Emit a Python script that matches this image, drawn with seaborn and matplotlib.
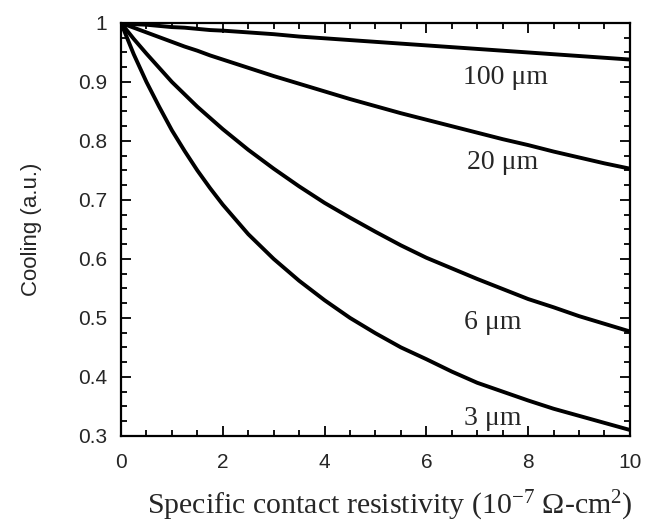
import numpy as np
import pandas as pd
import matplotlib
matplotlib.use("Agg")
import matplotlib.pyplot as plt
import seaborn as sns
from matplotlib.ticker import MultipleLocator

# resistivity values (10^-7 ohm-cm^2)
x_vals = [0, 0.25, 0.5, 0.75, 1, 1.25, 1.5, 1.75, 2, 2.5, 3, 3.5, 4, 4.5,
          5, 5.5, 6, 6.5, 7, 7.5, 8, 8.5, 9, 9.5, 10]

# cooling, one list per contact size
cool_100 = [1.0, 0.998, 0.997, 0.995, 0.993, 0.992, 0.990, 0.988, 0.987, 0.984, 0.981,
            0.977, 0.974, 0.971, 0.968, 0.965, 0.962, 0.959, 0.956, 0.953, 0.950,
            0.947, 0.944, 0.941, 0.938]
cool_20 = [1.0, 0.992, 0.984, 0.976, 0.968, 0.960, 0.953, 0.945, 0.938, 0.924, 0.910,
           0.897, 0.884, 0.871, 0.859, 0.847, 0.836, 0.825, 0.814, 0.803, 0.793,
           0.782, 0.772, 0.762, 0.753]
cool_6 = [1.0, 0.973, 0.948, 0.924, 0.900, 0.879, 0.858, 0.839, 0.820, 0.785, 0.753,
          0.723, 0.695, 0.670, 0.646, 0.623, 0.602, 0.584, 0.566, 0.549, 0.532,
          0.518, 0.503, 0.490, 0.477]
cool_3 = [1.0, 0.947, 0.900, 0.858, 0.818, 0.783, 0.750, 0.720, 0.692, 0.642, 0.600,
          0.563, 0.530, 0.500, 0.474, 0.450, 0.430, 0.409, 0.390, 0.375, 0.360,
          0.346, 0.334, 0.322, 0.310]

sizes = ["100 \u03bcm", "20 \u03bcm", "6 \u03bcm", "3 \u03bcm"]
label_x = [7.55, 7.5, 7.3, 7.3]
label_y = [0.908, 0.763, 0.493, 0.330]

y_ticks = [0.3, 0.4, 0.5, 0.6, 0.7, 0.8, 0.9, 1.0]
y_ticklabels = ["0.3", "0.4", "0.5", "0.6", "0.7", "0.8", "0.9", "1"]

df = pd.DataFrame({
    "x": x_vals * 4,
    "y": cool_100 + cool_20 + cool_6 + cool_3,
    "size": [s for s in sizes for _ in x_vals],
})

sns.set_style("ticks")
plt.rcParams["font.family"] = ["Liberation Sans", "DejaVu Sans"]
plt.rcParams["mathtext.default"] = "regular"

fig = plt.figure(figsize=(6.45, 5.22), dpi=100)
ax = fig.add_axes([0.1876, 0.165, 0.789, 0.791])

sns.lineplot(data=df, x="x", y="y", units="size", estimator=None,
             color="black", linewidth=2.8, ax=ax, legend=False)

for s, lx, ly in zip(sizes, label_x, label_y):
    ax.text(lx, ly, s, ha="center", va="center", fontsize=20,
            family="Liberation Serif")

ax.set_xlim(0, 10)
ax.set_ylim(0.3, 1.0)
ax.xaxis.set_major_locator(MultipleLocator(2))
ax.xaxis.set_minor_locator(MultipleLocator(0.5))
ax.yaxis.set_minor_locator(MultipleLocator(0.025))
ax.set_yticks(y_ticks)
ax.set_yticklabels(y_ticklabels)

ax.tick_params(which="both", direction="in", top=True, right=True,
               color="black", width=1.3)
ax.tick_params(which="major", length=7, labelsize=15)
ax.tick_params(axis="x", which="major", pad=12)
ax.tick_params(axis="y", which="major", pad=10)
ax.tick_params(which="minor", length=4)

for sp in ax.spines.values():
    sp.set_linewidth(1.6)
    sp.set_color("black")

ax.set_ylabel("Cooling (a.u.)", fontsize=16, labelpad=26)
ax.set_xlabel("Specific contact resistivity (10$^{-7}$ \u03a9-cm$^{2}$)",
              fontsize=21.5, family="Liberation Serif")
ax.xaxis.label.set_va("baseline")
ax.xaxis.set_label_coords(0.528, -0.189)

fig.savefig("out.png", dpi=100)
